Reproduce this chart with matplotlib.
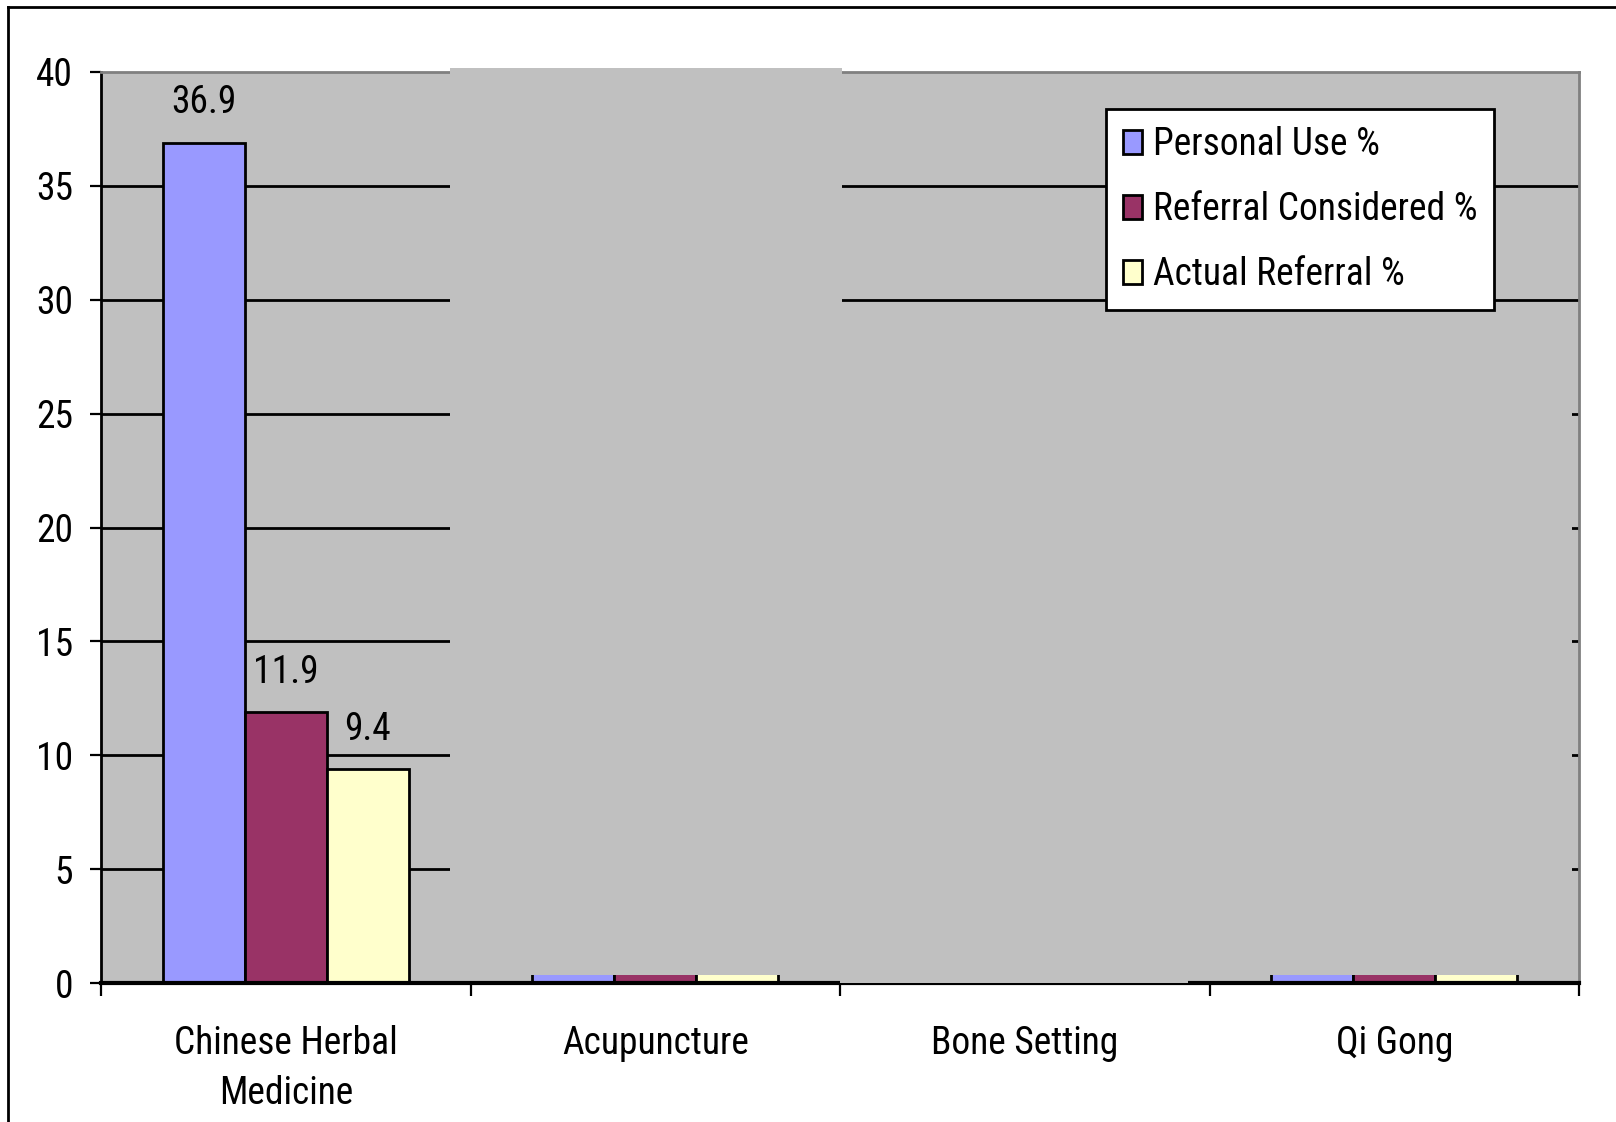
import matplotlib
matplotlib.use("Agg")
import matplotlib.pyplot as plt
import numpy as np
from matplotlib.patches import Rectangle
from matplotlib.lines import Line2D
from matplotlib import font_manager as fm

categories = ["Chinese Herbal\nMedicine", "Acupuncture", "Bone Setting", "Qi Gong"]
series_names = ["Personal Use %", "Referral Considered %", "Actual Referral %"]
personal_use = [36.9, 0.5, 0.0, 0.5]
referral_considered = [11.9, 0.5, 0.0, 0.5]
actual_referral = [9.4, 0.5, 0.0, 0.5]
value_labels = [["36.9", "", "", ""], ["11.9", "", "", ""], ["9.4", "", "", ""]]
y_ticks = [0, 5, 10, 15, 20, 25, 30, 35, 40]
grid_levels = [5, 10, 15, 20, 25, 30, 35]

colors = ["#9999FF", "#993366", "#FFFFCC"]
gray = "#C0C0C0"

# pick a narrow sans font if one is installed
available = {f.name for f in fm.fontManager.ttflist}
narrow_choices = ["Liberation Sans Narrow", "Arial Narrow", "Roboto Condensed",
                  "Open Sans Condensed", "Noto Sans Condensed"]
chosen = None
for n in narrow_choices:
    if n in available:
        chosen = n
        break
stretch = "normal"
if chosen is None:
    for f in fm.fontManager.ttflist:
        if f.name in ("Roboto", "Noto Sans", "Open Sans") and str(f.stretch) in ("condensed", "semi-condensed"):
            chosen = f.name
            stretch = f.stretch
            break
if chosen is None:
    chosen = "Liberation Sans"
    fs = 26
else:
    fs = 27

plt.rcParams['font.family'] = [chosen, 'Liberation Sans', 'DejaVu Sans']
plt.rcParams['font.stretch'] = stretch

fig = plt.figure(figsize=(16.16, 11.22), dpi=100)
ax = fig.add_axes([101/1616, 1-983/1122, (1579-101)/1616, (983-72)/1122])
ax.set_facecolor(gray)

x = np.arange(len(categories))
bw = 1/4.5
series = [personal_use, referral_considered, actual_referral]
for i, (vals, c, name) in enumerate(zip(series, colors, series_names)):
    bars = ax.bar(x + (i-1)*bw, vals, width=bw, color=c, edgecolor="black",
                  linewidth=2, label=name, zorder=2)
    for j, b in enumerate(bars):
        if value_labels[i][j]:
            ax.annotate(value_labels[i][j], (b.get_x()+b.get_width()/2, b.get_height()),
                        xytext=(0, 21), textcoords="offset points",
                        ha="center", va="baseline", fontsize=fs, zorder=6)

ax.hlines(grid_levels, -0.5, 3.5, colors="black", linewidth=2.0, zorder=1)

ax.set_xlim(-0.5, 3.5)
ax.set_ylim(0, 40)
ax.set_yticks(y_ticks)
ax.set_yticklabels([str(t) for t in y_ticks], fontsize=fs)
ax.tick_params(axis="y", direction="out", length=8, width=1.6, pad=12, colors="black")
ax.set_xticks(x)
ax.set_xticklabels(categories, fontsize=fs, linespacing=1.45)
ax.set_xticks(np.arange(-0.5, 4.0, 1.0), minor=True)
ax.tick_params(axis="x", which="major", length=0, pad=30)
ax.tick_params(axis="x", which="minor", direction="out", length=9, width=1.6)

for s in ["top", "right"]:
    ax.spines[s].set_color("#808080")
    ax.spines[s].set_linewidth(2)
ax.spines["left"].set_color("black")
ax.spines["left"].set_linewidth(2)
ax.spines["bottom"].set_color("black")
ax.spines["bottom"].set_linewidth(3)

# cover patches seen in the reference
ax.add_patch(Rectangle((0.4445, 0.35), 1.5054-0.4445, 40.18-0.35, facecolor=gray,
                       edgecolor="none", zorder=3, clip_on=False))
ax.add_patch(Rectangle((1.5054, 0.35), 3.481-1.5054, 29.7-0.35, facecolor=gray,
                       edgecolor="none", zorder=3))
ax.add_patch(Rectangle((1.5, 0.0), 2.442-1.5, 0.4, facecolor=gray,
                       edgecolor="none", zorder=3))

leg = ax.legend(loc="upper left", bbox_to_anchor=(0.680, 0.9594), fontsize=fs,
                frameon=True, fancybox=False, shadow=False, borderaxespad=0,
                handlelength=0.5, handleheight=0.6, handletextpad=0.3,
                labelspacing=0.75, borderpad=0.45)
leg.get_frame().set_edgecolor("black")
leg.get_frame().set_linewidth(2)
leg.get_frame().set_facecolor("white")
leg.get_frame().set_alpha(1)
leg.set_zorder(6)

fig.add_artist(Line2D([8/1616, 8/1616], [0, 1-7/1122], color="black", linewidth=2))
fig.add_artist(Line2D([8/1616, 1], [1-7/1122, 1-7/1122], color="black", linewidth=2))

fig.savefig("out.png", dpi=100)
